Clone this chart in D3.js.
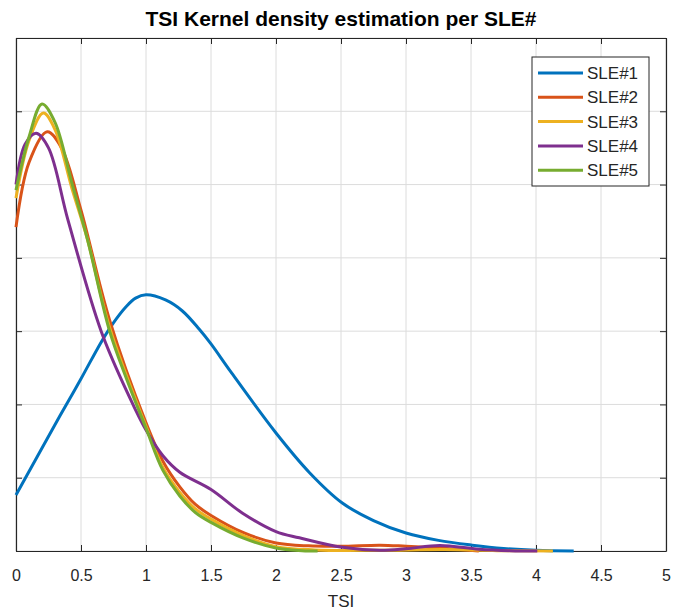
<!DOCTYPE html>
<html>
<head>
<meta charset="utf-8">
<script src="https://cdn.jsdelivr.net/npm/d3@7"></script>
<style>
  body { margin: 0; background: #fff; }
  svg { font-family: "Liberation Sans", Arial, sans-serif; }
</style>
</head>
<body>
<svg id="chart" width="673" height="612"></svg>
<script>
// kernel density curves (x = TSI, y = density)
var sle1X = [0, 0.335, 0.5, 0.655, 0.74, 0.85, 0.92, 1.0, 1.15, 1.28, 1.41, 1.5, 1.65, 2.0, 2.26, 2.51, 2.75, 3.0, 3.25, 3.51, 3.75, 4.0, 4.29];
var sle1Y = [0.153, 0.367, 0.47, 0.57, 0.618, 0.668, 0.69, 0.699, 0.685, 0.655, 0.605, 0.565, 0.49, 0.322, 0.213, 0.131, 0.083, 0.049, 0.029, 0.016, 0.007, 0.002, 0];

var sle2X = [0, 0.1, 0.24, 0.35, 0.5, 0.72, 1.0, 1.13, 1.26, 1.38, 1.5, 1.75, 2.0, 2.25, 2.5, 2.8, 3.0, 3.26, 3.56];
var sle2Y = [0.884, 1.06, 1.144, 1.10, 0.93, 0.63, 0.35, 0.245, 0.175, 0.127, 0.097, 0.05, 0.022, 0.014, 0.013, 0.016, 0.013, 0.008, 0];

var sle3X = [0, 0.1, 0.21, 0.3, 0.43, 0.55, 0.72, 1.0, 1.13, 1.26, 1.38, 1.5, 1.75, 2.0, 2.3, 2.8, 3.3, 3.7, 4.13];
var sle3Y = [0.963, 1.12, 1.195, 1.15, 0.99, 0.85, 0.61, 0.34, 0.228, 0.16, 0.115, 0.087, 0.042, 0.012, 0.003, 0.002, 0.004, 0.001, 0];

var sle4X = [0, 0.07, 0.155, 0.25, 0.40, 0.655, 0.873, 1.0, 1.13, 1.26, 1.5, 1.74, 2.0, 2.18, 2.51, 2.8, 3.0, 3.26, 3.56, 3.8, 4.01];
var sle4Y = [1.0, 1.11, 1.14, 1.10, 0.903, 0.60, 0.42, 0.33, 0.26, 0.215, 0.168, 0.104, 0.053, 0.036, 0.01, 0.002, 0.006, 0.015, 0.005, 0.001, 0];

var sle5X = [0, 0.1, 0.2, 0.3, 0.43, 0.55, 0.72, 0.85, 1.0, 1.13, 1.26, 1.38, 1.5, 1.75, 2.0, 2.2, 2.32];
var sle5Y = [0.985, 1.13, 1.22, 1.17, 1.004, 0.85, 0.60, 0.47, 0.335, 0.22, 0.15, 0.105, 0.078, 0.035, 0.008, 0.001, 0];

var seriesNames = ["SLE#1", "SLE#2", "SLE#3", "SLE#4", "SLE#5"];
var seriesColors = ["#0072BD", "#D95319", "#EDB120", "#7E2F8E", "#77AC30"];
var xTicks = [0, 0.5, 1, 1.5, 2, 2.5, 3, 3.5, 4, 4.5, 5];
var yTicks = [0, 0.2, 0.4, 0.6, 0.8, 1.0, 1.2, 1.4];

var seriesX = [sle1X, sle2X, sle3X, sle4X, sle5X];
var seriesY = [sle1Y, sle2Y, sle3Y, sle4Y, sle5Y];

var svg = d3.select("#chart");
var margin = { top: 38, bottom: 61, right: 7, left: 16 };
var width = 673 - margin.left - margin.right;
var height = 612 - margin.top - margin.bottom;

var g = svg.append("g").attr("transform", `translate(${margin.left}, ${margin.top})`);

var xScale = d3.scaleLinear().domain([0, 5]).range([0, width]);
var yScale = d3.scaleLinear().domain([0, 1.4]).range([height, 0]);

//Grid
g.append("g")
  .selectAll("line")
  .data(xTicks)
  .enter()
  .append("line")
  .attr("x1", d => xScale(d)).attr("x2", d => xScale(d))
  .attr("y1", 0).attr("y2", height)
  .attr("stroke", "#dcdcdc").attr("stroke-width", 1);

g.append("g")
  .selectAll("line")
  .data(yTicks)
  .enter()
  .append("line")
  .attr("x1", 0).attr("x2", width)
  .attr("y1", d => yScale(d)).attr("y2", d => yScale(d))
  .attr("stroke", "#dcdcdc").attr("stroke-width", 1);

//Axes (ticks inside, matlab style)
var xAxis = g.append("g")
  .attr("transform", `translate(0,${height})`)
  .call(d3.axisBottom(xScale).tickValues(xTicks).tickSizeInner(-6).tickSizeOuter(0).tickPadding(19).tickFormat(d3.format("~g")));
xAxis.selectAll("text").style("font-size", "16px").attr("fill", "#262626");

var xAxisTop = g.append("g")
  .call(d3.axisTop(xScale).tickValues(xTicks).tickSizeInner(-6).tickSizeOuter(0).tickFormat(""));

var yAxis = g.append("g")
  .call(d3.axisLeft(yScale).tickValues(yTicks).tickSizeInner(-6).tickSizeOuter(0).tickFormat(""));

var yAxisRight = g.append("g")
  .attr("transform", `translate(${width},0)`)
  .call(d3.axisRight(yScale).tickValues(yTicks).tickSizeInner(-6).tickSizeOuter(0).tickFormat(""));

g.selectAll(".domain").attr("stroke", "#262626").attr("stroke-width", 1.2);
g.selectAll(".tick line").attr("stroke", "#262626");

//Lines
var line = d3.line()
  .x(d => xScale(d[0]))
  .y(d => yScale(Math.max(0, d[1])))
  .curve(d3.curveCatmullRom.alpha(0.5));

seriesNames.forEach(function(name, i) {
  var pts = seriesX[i].map((x, j) => [x, seriesY[i][j]]);
  g.append("path")
    .datum(pts)
    .attr("fill", "none")
    .attr("stroke", seriesColors[i])
    .attr("stroke-width", 3)
    .attr("stroke-linejoin", "round")
    .attr("d", line);
});

//Legend
var legend = svg.append("g").attr("transform", "translate(532, 57)");
legend.append("rect")
  .attr("width", 117).attr("height", 129)
  .attr("fill", "#fff").attr("stroke", "#262626").attr("stroke-width", 1);

seriesNames.forEach(function(name, i) {
  var yy = 16 + i * 24.3;
  legend.append("line")
    .attr("x1", 6).attr("x2", 51)
    .attr("y1", yy).attr("y2", yy)
    .attr("stroke", seriesColors[i]).attr("stroke-width", 3);
  legend.append("text")
    .attr("x", 55).attr("y", yy)
    .attr("dy", "0.36em")
    .style("font-size", "17px")
    .attr("fill", "#262626")
    .text(name);
});

//Axis label and title
svg.append("text")
  .attr("x", margin.left + width / 2)
  .attr("y", 607)
  .attr("text-anchor", "middle")
  .style("font-size", "17px")
  .attr("fill", "#262626")
  .text("TSI");

svg.append("text")
  .attr("x", margin.left + width / 2)
  .attr("y", 26)
  .attr("text-anchor", "middle")
  .style("font-size", "21px")
  .style("font-weight", "bold")
  .attr("fill", "#000")
  .text("TSI Kernel density estimation per SLE#");
</script>
</body>
</html>
